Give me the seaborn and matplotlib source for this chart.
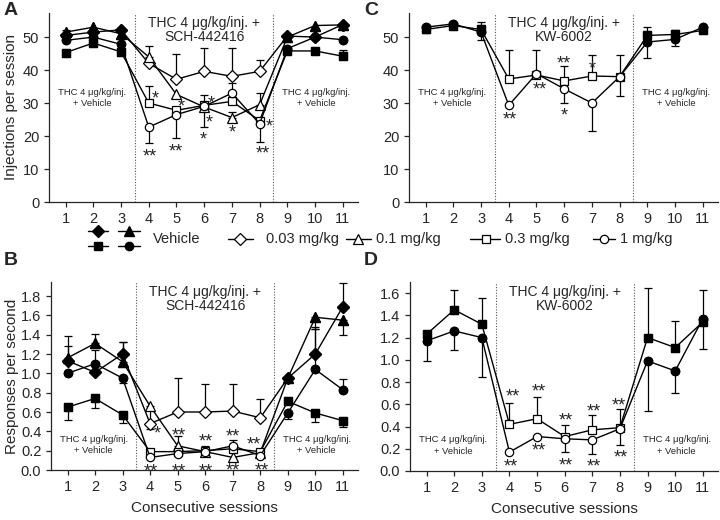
import numpy as np
import matplotlib
matplotlib.use("Agg")
import matplotlib.pyplot as plt
from matplotlib.lines import Line2D
import seaborn as sns
import pandas as pd

# ---------------- data ----------------
sessions = [1, 2, 3, 4, 5, 6, 7, 8, 9, 10, 11]
vehicle_sessions = [1, 2, 3, 9, 10, 11]

# Panel A: injections per session (THC + SCH-442416)
a_d003 = [50.5, 51.5, 52.2, 42.0, 37.2, 39.6, 38.1, 39.6, 50.3, 50.0, 53.8]
a_d003_lo = [0, 0, 0, 0, 0, 0, 0, 0, 0, 0, 0]
a_d003_up = [1.5, 0, 0, 0, 7.8, 7.1, 8.6, 3.6, 0, 0, 0]
a_d01 = [51.5, 53.0, 51.0, 44.0, 32.6, 28.8, 25.6, 29.5, 50.0, 53.5, 53.7]
a_d01_lo = [0, 0, 0, 0, 0, 0, 0, 0, 0, 0, 0]
a_d01_up = [0, 0, 0, 3.2, 0, 3.7, 1.8, 3.5, 0, 0, 0]
a_d03 = [45.3, 48.2, 45.5, 30.0, 27.8, 29.3, 30.5, 24.7, 45.8, 45.8, 44.2]
a_d03_lo = [0, 0, 0, 0, 0, 0, 0, 0, 0, 0, 0]
a_d03_up = [0, 0, 0, 5.3, 0, 0, 0, 0, 0, 0, 1.8]
a_d1 = [49.0, 50.0, 47.8, 22.7, 26.5, 29.0, 33.0, 23.7, 46.5, 50.0, 49.2]
a_d1_lo = [0, 0, 0, 4.7, 7.2, 6.2, 0, 5.5, 0, 0, 0]
a_d1_up = [0, 0, 0, 0, 0, 0, 3.0, 0, 0, 0, 0]

# Panel B: responses per second (THC + SCH-442416)
b_d003 = [1.13, 1.01, 1.20, 0.48, 0.60, 0.60, 0.61, 0.54, 0.95, 1.20, 1.69]
b_d003_lo = [0, 0, 0, 0.06, 0, 0, 0, 0, 0, 0, 0]
b_d003_up = [0.15, 0.23, 0.12, 0, 0.35, 0.29, 0.28, 0.19, 0, 0.28, 0.24]
b_d01 = [1.16, 1.31, 1.12, 0.66, 0.25, 0.19, 0.13, 0.18, 0.95, 1.58, 1.55]
b_d01_lo = [0, 0, 0, 0.18, 0, 0, 0, 0, 0, 0.12, 0.15]
b_d01_up = [0.23, 0.10, 0.20, 0, 0.10, 0.06, 0, 0, 0, 0, 0]
b_d03 = [0.65, 0.74, 0.57, 0.19, 0.19, 0.20, 0.22, 0.19, 0.71, 0.59, 0.51]
b_d03_lo = [0.13, 0.10, 0.08, 0, 0, 0, 0, 0, 0, 0.09, 0.07]
b_d03_up = [0, 0, 0, 0, 0, 0, 0.05, 0, 0, 0, 0]
b_d1 = [1.00, 1.10, 0.95, 0.13, 0.17, 0.19, 0.25, 0.15, 0.59, 1.04, 0.83]
b_d1_lo = [0, 0, 0.05, 0, 0, 0, 0, 0, 0.06, 0, 0]
b_d1_up = [0, 0, 0, 0, 0, 0, 0.06, 0, 0, 0.42, 0.11]

# Panel C: injections per session (THC + KW-6002)
c_d03 = [52.3, 53.5, 52.3, 37.3, 38.5, 36.7, 38.2, 38.0, 50.5, 50.8, 52.0]
c_d03_lo = [0, 0, 0, 0, 0, 0, 0, 0, 0, 0, 0]
c_d03_up = [0, 0, 2.2, 8.7, 7.7, 4.6, 6.3, 6.5, 2.7, 1.2, 0]
c_d1 = [53.0, 54.0, 51.5, 29.3, 38.9, 34.3, 30.0, 38.0, 48.5, 49.3, 53.0]
c_d1_lo = [1.8, 0, 2.5, 0, 0, 4.3, 8.5, 6.0, 4.7, 2.0, 0]
c_d1_up = [0, 0, 0, 0, 0, 0, 0, 0, 0, 0, 0]

# Panel D: responses per second (THC + KW-6002)
d_d03 = [1.23, 1.45, 1.32, 0.42, 0.47, 0.31, 0.37, 0.39, 1.20, 1.11, 1.34]
d_d03_lo = [0, 0, 0, 0, 0, 0, 0, 0, 0, 0, 0]
d_d03_up = [0, 0.18, 0.24, 0.19, 0.20, 0.10, 0.13, 0.17, 0.45, 0.24, 0.29]
d_d1 = [1.17, 1.26, 1.20, 0.17, 0.31, 0.29, 0.28, 0.38, 0.99, 0.90, 1.37]
d_d1_lo = [0.18, 0.17, 0.35, 0, 0, 0.12, 0.13, 0.15, 0.45, 0.20, 0.27]
d_d1_up = [0, 0, 0, 0, 0, 0, 0, 0, 0, 0, 0]

# significance marks (session, value, label)
a_stars = [(4.23, 32.8, "*"), (4.04, 15.2, "**"), (5.16, 30.3, "*"), (4.98, 16.7, "**"),
           (6.24, 31.3, "*"), (6.18, 25.6, "*"), (5.96, 20.5, "*"), (7.02, 22.4, "*"),
           (8.33, 24.2, "*"), (8.11, 16.2, "**")]
c_stars = [(4.05, 26.3, "**"), (5.13, 35.4, "**"), (6.0, 43.4, "**"), (6.0, 27.8, "*"),
           (7.02, 41.9, "*")]
b_stars = [(4.25, 0.43, "*"), (4.01, 0.034, "**"), (5.04, 0.41, "**"), (5.04, 0.034, "**"),
           (6.04, 0.345, "**"), (6.04, 0.034, "**"), (7.02, 0.40, "**"), (7.02, 0.04, "**"),
           (7.75, 0.31, "**"), (8.05, 0.04, "**")]
d_stars = [(4.11, 0.71, "**"), (4.05, 0.08, "**"), (5.05, 0.755, "**"), (5.05, 0.23, "**"),
           (6.03, 0.50, "**"), (6.03, 0.096, "**"), (7.05, 0.575, "**"), (7.05, 0.08, "**"),
           (7.95, 0.635, "**"), (8.04, 0.16, "**")]

legend_labels = ["Vehicle", "0.03 mg/kg", "0.1 mg/kg", "0.3 mg/kg", "1 mg/kg"]

# ---------------- style ----------------
sns.set_theme(style="ticks")
plt.rcParams['font.family'] = ['Liberation Sans', 'DejaVu Sans']
plt.rcParams['axes.linewidth'] = 0.9
plt.rcParams['xtick.major.width'] = 0.9
plt.rcParams['ytick.major.width'] = 0.9
plt.rcParams['xtick.major.size'] = 3.5
plt.rcParams['ytick.major.size'] = 3.5
plt.rcParams['xtick.labelsize'] = 10.5
plt.rcParams['ytick.labelsize'] = 10.5

MK = {"D": 6.0, "^": 6.5, "s": 5.5, "o": 6.0}

W, H = 720, 520
fig = plt.figure(figsize=(7.2, 5.2), dpi=100)


def px_axes(l, t, r, b):
    return fig.add_axes([l / W, 1 - b / H, (r - l) / W, (b - t) / H])


def draw_series(ax, vals, lo, up, marker):
    x = np.array(sessions)
    y = np.array(vals, dtype=float)
    lo = np.array(lo, dtype=float)
    up = np.array(up, dtype=float)
    for sel, yerr in (((up > 0), [np.zeros_like(up), up]), ((lo > 0), [lo, np.zeros_like(lo)])):
        if sel.any():
            ax.errorbar(x[sel], y[sel], yerr=[yerr[0][sel], yerr[1][sel]], fmt='none',
                        ecolor='black', elinewidth=0.9, capsize=3, capthick=0.9, zorder=2)
    df = pd.DataFrame({"session": x, "value": y})
    sns.lineplot(data=df, x="session", y="value", ax=ax, color="black", lw=1.0,
                 marker=marker, markersize=MK[marker], markerfacecolor="white",
                 markeredgecolor="black", markeredgewidth=0.9, zorder=3)
    veh = df[df["session"].isin(vehicle_sessions)]
    ax.plot(veh["session"], veh["value"], ls="none", marker=marker, ms=MK[marker],
            mfc="black", mec="black", mew=0.9, zorder=4)


def style_axes(ax, ylim, yticks, yfmt, title, annot_y):
    ax.set_xlim(0.4, 11.55)
    ax.set_ylim(*ylim)
    ax.set_xticks(sessions)
    ax.set_yticks(yticks)
    ax.set_yticklabels([yfmt.format(v) for v in yticks])
    ax.set_xlabel("")
    ax.set_ylabel("")
    sns.despine(ax=ax)
    for xv in (3.5, 8.5):
        ax.axvline(xv, color="#555555", lw=0.8, ls=(0, (1, 1.5)), zorder=1)
    ax.text(6.0, 0.985, title, transform=ax.get_xaxis_transform(), ha="center", va="top",
            fontsize=10, linespacing=1.05)
    for xv in (1.95, 10.05):
        ax.text(xv, annot_y, "THC 4 \u03bcg/kg/inj.\n+ Vehicle", ha="center", va="center",
                fontsize=6.8, linespacing=1.35)


def draw_stars(ax, stars):
    for xv, yv, s in stars:
        ax.annotate(s, xy=(xv, yv), xytext=(0, -7), textcoords="offset points",
                    ha="center", va="baseline", fontsize=13)


# Panel A
axA = px_axes(49, 13, 358, 202)
draw_series(axA, a_d003, a_d003_lo, a_d003_up, "D")
draw_series(axA, a_d01, a_d01_lo, a_d01_up, "^")
draw_series(axA, a_d03, a_d03_lo, a_d03_up, "s")
draw_series(axA, a_d1, a_d1_lo, a_d1_up, "o")
style_axes(axA, (0, 57.3), [0, 10, 20, 30, 40, 50], "{:.0f}",
           "THC 4 \u03bcg/kg/inj. +\nSCH-442416", 31.5)
draw_stars(axA, a_stars)
axA.set_ylabel("Injections per session", fontsize=11)

# Panel C
axC = px_axes(409, 13, 718, 202)
draw_series(axC, c_d03, c_d03_lo, c_d03_up, "s")
draw_series(axC, c_d1, c_d1_lo, c_d1_up, "o")
style_axes(axC, (0, 57.3), [0, 10, 20, 30, 40, 50], "{:.0f}",
           "THC 4 \u03bcg/kg/inj. +\nKW-6002", 31.5)
draw_stars(axC, c_stars)

# Panel B
axB = px_axes(51, 282, 358, 470)
draw_series(axB, b_d003, b_d003_lo, b_d003_up, "D")
draw_series(axB, b_d01, b_d01_lo, b_d01_up, "^")
draw_series(axB, b_d03, b_d03_lo, b_d03_up, "s")
draw_series(axB, b_d1, b_d1_lo, b_d1_up, "o")
style_axes(axB, (0, 1.945), [0, 0.2, 0.4, 0.6, 0.8, 1.0, 1.2, 1.4, 1.6, 1.8], "{:.1f}",
           "THC 4 \u03bcg/kg/inj. +\nSCH-442416", 0.26)
draw_stars(axB, b_stars)
axB.set_ylabel("Responses per second", fontsize=11)
axB.set_xlabel("Consecutive sessions", fontsize=11, labelpad=5)

# Panel D
axD = px_axes(410, 282, 718, 471)
draw_series(axD, d_d03, d_d03_lo, d_d03_up, "s")
draw_series(axD, d_d1, d_d1_lo, d_d1_up, "o")
style_axes(axD, (0, 1.70), [0, 0.2, 0.4, 0.6, 0.8, 1.0, 1.2, 1.4, 1.6], "{:.1f}",
           "THC 4 \u03bcg/kg/inj. +\nKW-6002", 0.23)
draw_stars(axD, d_stars)
axD.set_xlabel("Consecutive sessions", fontsize=11, labelpad=5)

axA.yaxis.set_label_coords(-0.1, 0.5)
axB.yaxis.set_label_coords(-0.105, 0.5)

# panel letters
for lab, (xp, yp) in zip("ABCD", [(4, 2), (4, 252), (364, 2), (364, 252)]):
    fig.text(xp / W, 1 - yp / H, lab, fontsize=14, fontweight="bold", ha="left", va="top")

# ---------------- legend (overlay) ----------------
lg = fig.add_axes([0, 0, 1, 1], facecolor="none")
lg.set_xlim(0, W)
lg.set_ylim(H, 0)
lg.axis("off")
for (x0, x1, xm, ym, m) in [(88, 108, 98, 231, "D"), (118, 140, 129, 231, "^"),
                            (88, 108, 98, 246, "s"), (118, 140, 129, 246, "o")]:
    lg.add_line(Line2D([x0, x1], [ym, ym], color="black", lw=1.0))
    lg.add_line(Line2D([xm], [ym], marker=m, ms=MK[m], mfc="black", mec="black", ls="none"))
lg.text(153, 239, legend_labels[0], fontsize=10.5, va="center", ha="left")
for (x0, x1, xm, m, tx, lab) in [(228, 253, 240, "D", 266, legend_labels[1]),
                                 (346, 371, 358, "^", 376, legend_labels[2]),
                                 (470, 500, 486, "s", 505, legend_labels[3]),
                                 (593, 615, 604, "o", 620, legend_labels[4])]:
    lg.add_line(Line2D([x0, x1], [239, 239], color="black", lw=1.0))
    lg.add_line(Line2D([xm], [239], marker=m, ms=MK[m], mfc="white", mec="black",
                       mew=0.9, ls="none"))
    lg.text(tx, 239, lab, fontsize=10.5, va="center", ha="left")

fig.savefig("out.png", dpi=100)
